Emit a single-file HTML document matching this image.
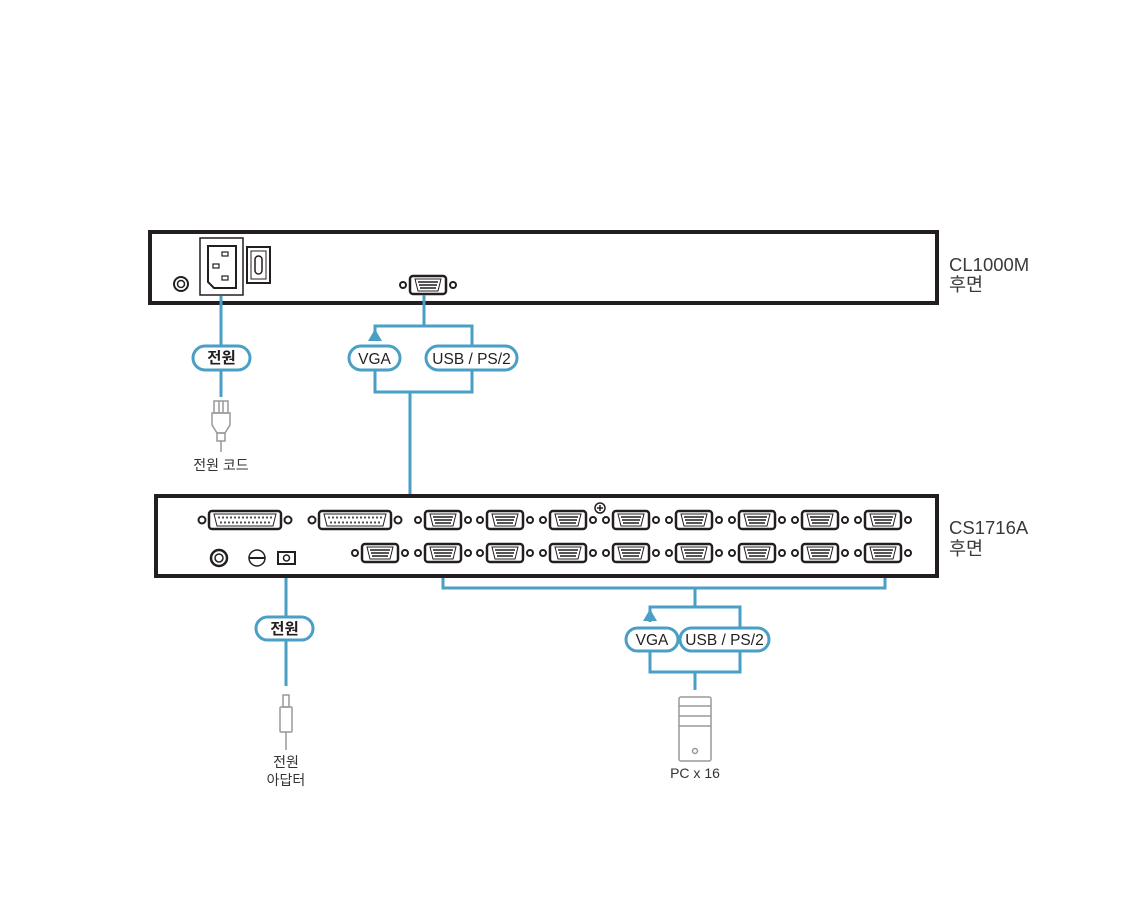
<!DOCTYPE html>
<html><head><meta charset="utf-8"><style>
html,body{margin:0;padding:0;background:#fff;}
svg{display:block;}
text{font-family:"Liberation Sans","Noto Sans CJK KR",sans-serif;}
</style></head><body>
<svg width="1140" height="913" viewBox="0 0 1140 913" xmlns="http://www.w3.org/2000/svg">
<defs>
<g id="vga">
  <circle cx="-25" cy="0" r="3" fill="none" stroke="#231f20" stroke-width="2"/>
  <circle cx="25" cy="0" r="3" fill="none" stroke="#231f20" stroke-width="2"/>
  <rect x="-18" y="-9" width="36" height="18" rx="3" fill="#fff" stroke="#231f20" stroke-width="2.5"/>
  <path d="M-13,-6 L13,-6 L10,6 L-10,6 Z" fill="#fff" stroke="#231f20" stroke-width="1"/>
  <g fill="#555"><rect x="-10" y="-4" width="20" height="2"/><rect x="-9" y="-1" width="18" height="2"/><rect x="-8" y="2" width="16" height="2"/></g>
</g>
<g id="db25">
  <circle cx="-43" cy="0" r="3.5" fill="none" stroke="#231f20" stroke-width="2"/>
  <circle cx="43" cy="0" r="3.5" fill="none" stroke="#231f20" stroke-width="2"/>
  <rect x="-36" y="-9" width="72" height="18" rx="3" fill="#fff" stroke="#231f20" stroke-width="2.5"/>
  <path d="M-31,-6 L31,-6 L28,6 L-28,6 Z" fill="#fff" stroke="#231f20" stroke-width="1"/>
  <line x1="-27" y1="-2.5" x2="27" y2="-2.5" stroke="#555" stroke-width="2" stroke-dasharray="2,2"/>
  <line x1="-25" y1="2.5" x2="25" y2="2.5" stroke="#555" stroke-width="2" stroke-dasharray="2,2"/>
</g>
</defs>

<!-- CL1000M -->
<rect x="150" y="232" width="787" height="71" fill="#fff" stroke="#231f20" stroke-width="4"/>
<circle cx="181" cy="284" r="7" fill="none" stroke="#231f20" stroke-width="2"/>
<circle cx="181" cy="284" r="3.5" fill="none" stroke="#231f20" stroke-width="1.5"/>
<rect x="200" y="238" width="43" height="57" fill="#fff" stroke="#231f20" stroke-width="1.5"/>
<path d="M208,246 L236,246 L236,288 L214,288 L208,282 Z" fill="none" stroke="#231f20" stroke-width="2"/>
<rect x="222" y="252" width="6" height="4" fill="none" stroke="#231f20" stroke-width="1.2"/>
<rect x="213" y="264" width="6" height="4" fill="none" stroke="#231f20" stroke-width="1.2"/>
<rect x="222" y="276" width="6" height="4" fill="none" stroke="#231f20" stroke-width="1.2"/>
<rect x="247" y="247" width="23" height="36" fill="none" stroke="#231f20" stroke-width="2"/>
<rect x="251" y="251" width="15" height="28" fill="none" stroke="#231f20" stroke-width="1"/>
<rect x="255" y="256" width="7" height="18" rx="3.5" fill="none" stroke="#231f20" stroke-width="1.5"/>
<use href="#vga" x="428" y="285"/>

<g fill="none" stroke="#4a9fc4" stroke-width="3">
  <line x1="221" y1="296" x2="221" y2="397"/>
  <line x1="424" y1="295" x2="424" y2="326"/>
  <polyline points="375,340 375,326 472,326 472,346"/>
  <polyline points="375,369 375,392 472,392 472,369"/>
  <polyline points="410,392 410,548 398,548"/>
  <line x1="286" y1="565" x2="286" y2="686"/>
  <polyline points="443,563 443,588 885,588 885,563"/>
  <line x1="695" y1="588" x2="695" y2="607"/>
  <polyline points="650,622 650,607 740,607 740,628"/>
  <polyline points="650,651 650,672 740,672 740,651"/>
  <line x1="695" y1="672" x2="695" y2="690"/>
</g>
<polygon points="375,329 368,341 382,341" fill="#4a9fc4"/>
<polygon points="650,609 643,621 657,621" fill="#4a9fc4"/>

<!-- pills -->
<g fill="#fff" stroke="#4a9fc4" stroke-width="3">
  <rect x="193" y="346" width="57" height="24" rx="12"/>
  <rect x="349" y="346" width="51" height="24" rx="12"/>
  <rect x="426" y="346" width="91" height="24" rx="12"/>
  <rect x="256" y="617" width="57" height="23" rx="11.5"/>
  <rect x="626" y="628" width="52" height="23" rx="11.5"/>
  <rect x="680" y="628" width="89" height="23" rx="11.5"/>
</g>
<g font-size="15.5" fill="#231f20" text-anchor="middle">
  <text x="221.5" y="363" font-weight="bold">전원</text>
  <text x="374.5" y="364">VGA</text>
  <text x="471.5" y="364">USB / PS/2</text>
  <text x="284.5" y="634" font-weight="bold">전원</text>
  <text x="652" y="645">VGA</text>
  <text x="724.5" y="645">USB / PS/2</text>
</g>

<!-- power plug -->
<g fill="none" stroke="#999" stroke-width="1.5">
  <rect x="214" y="401" width="14" height="12"/>
  <line x1="219" y1="401" x2="219" y2="413"/><line x1="223" y1="401" x2="223" y2="413"/>
  <path d="M212,413 L230,413 L230,425 L225,433 L217,433 L212,425 Z"/>
  <rect x="217" y="433" width="8" height="8"/>
  <line x1="221" y1="441" x2="221" y2="452"/>
</g>
<text x="221" y="470" font-size="14" fill="#333" text-anchor="middle">전원 코드</text>

<!-- CS1716A -->
<rect x="156" y="496" width="781" height="80" fill="#fff" stroke="#231f20" stroke-width="4"/>
<use href="#db25" x="245" y="520"/>
<use href="#db25" x="355" y="520"/>
<use href="#vga" x="380" y="553"/>
<use href="#vga" x="443" y="520"/><use href="#vga" x="505" y="520"/><use href="#vga" x="568" y="520"/><use href="#vga" x="631" y="520"/>
<use href="#vga" x="694" y="520"/><use href="#vga" x="757" y="520"/><use href="#vga" x="820" y="520"/><use href="#vga" x="883" y="520"/>
<use href="#vga" x="443" y="553"/><use href="#vga" x="505" y="553"/><use href="#vga" x="568" y="553"/><use href="#vga" x="631" y="553"/>
<use href="#vga" x="694" y="553"/><use href="#vga" x="757" y="553"/><use href="#vga" x="820" y="553"/><use href="#vga" x="883" y="553"/>
<circle cx="600" cy="508" r="5" fill="#fff" stroke="#231f20" stroke-width="1.5"/>
<path d="M600,505 V511 M597,508 H603" stroke="#231f20" stroke-width="1.5"/>
<circle cx="219" cy="558" r="8" fill="none" stroke="#231f20" stroke-width="2.5"/>
<circle cx="219" cy="558" r="4" fill="none" stroke="#231f20" stroke-width="1.5"/>
<circle cx="257" cy="558" r="8" fill="none" stroke="#231f20" stroke-width="1.5"/>
<line x1="249" y1="558" x2="265" y2="558" stroke="#231f20" stroke-width="2"/>
<rect x="278" y="552" width="17" height="12" fill="#fff" stroke="#231f20" stroke-width="2"/>
<circle cx="286.5" cy="558" r="3" fill="none" stroke="#231f20" stroke-width="1.5"/>

<!-- adapter plug -->
<g fill="none" stroke="#999" stroke-width="1.5">
  <rect x="283" y="695" width="6" height="12"/>
  <rect x="280" y="707" width="12" height="25" rx="1"/>
  <line x1="286" y1="732" x2="286" y2="750"/>
</g>
<text x="286" y="767" font-size="14" fill="#333" text-anchor="middle">전원</text>
<text x="286" y="785" font-size="14" fill="#333" text-anchor="middle">아답터</text>

<!-- PC -->
<g fill="none" stroke="#999" stroke-width="1.5">
  <rect x="679" y="697" width="32" height="64" rx="2"/>
  <line x1="679" y1="706" x2="711" y2="706"/>
  <line x1="679" y1="716" x2="711" y2="716"/>
  <line x1="679" y1="726" x2="711" y2="726"/>
  <circle cx="695" cy="751" r="2.5"/>
</g>
<text x="695" y="778" font-size="14" fill="#333" text-anchor="middle">PC x 16</text>

<g font-size="18.5" fill="#3a3a3a">
  <text x="949" y="271">CL1000M</text>
  <text x="949" y="291">후면</text>
  <text x="949" y="534">CS1716A</text>
  <text x="949" y="555">후면</text>
</g>
</svg>
</body></html>
